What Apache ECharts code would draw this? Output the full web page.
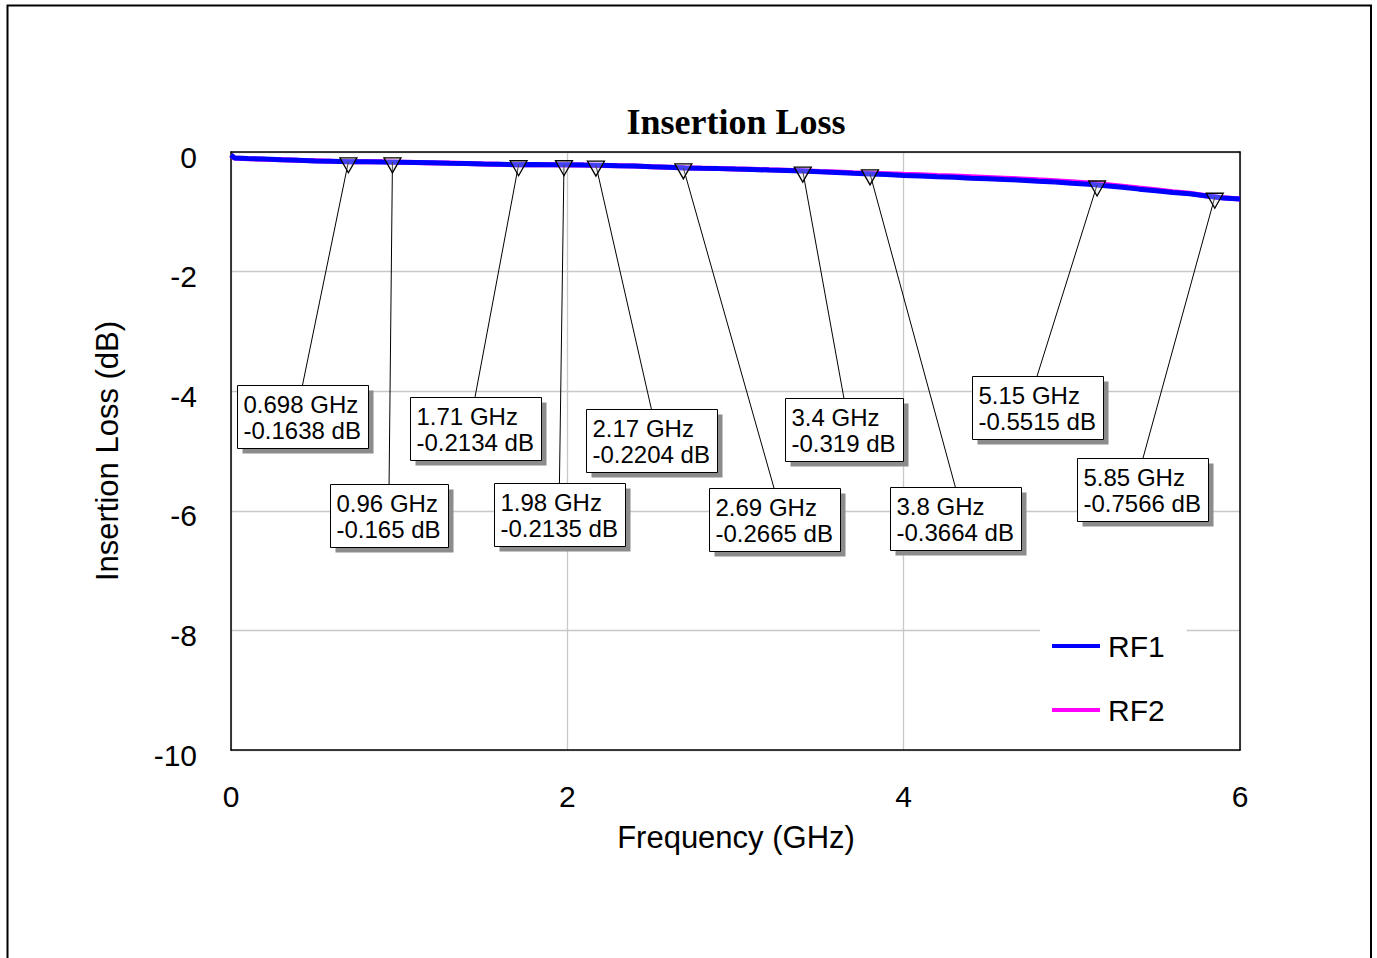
<!DOCTYPE html>
<html><head><meta charset="utf-8">
<script src="https://cdn.jsdelivr.net/npm/echarts@6/dist/echarts.min.js"></script>
<style>html,body{margin:0;padding:0;background:#fff}#c{width:1377px;height:958px}</style>
</head><body><div id="c"></div>
<script>
// ---- data ----
const freqGHz = [0, 0.02, 0.1, 0.2, 0.3, 0.4, 0.5, 0.6, 0.7, 0.8, 0.9, 1.0, 1.1, 1.2, 1.3, 1.4, 1.5, 1.6, 1.7, 1.8, 1.9, 2.0, 2.1, 2.2, 2.3, 2.4, 2.5, 2.6, 2.7, 2.8, 2.9, 3.0, 3.1, 3.2, 3.3, 3.4, 3.5, 3.6, 3.7, 3.8, 3.9, 4.0, 4.1, 4.2, 4.3, 4.4, 4.5, 4.6, 4.7, 4.8, 4.9, 5.0, 5.1, 5.2, 5.3, 5.4, 5.5, 5.6, 5.7, 5.8, 5.9, 6.0];
const rf1Db = [-0.05, -0.1, -0.11, -0.118, -0.131, -0.138, -0.149, -0.156, -0.163, -0.162, -0.167, -0.171, -0.176, -0.181, -0.189, -0.192, -0.201, -0.205, -0.213, -0.211, -0.215, -0.214, -0.219, -0.221, -0.229, -0.235, -0.248, -0.256, -0.266, -0.273, -0.278, -0.286, -0.292, -0.302, -0.309, -0.319, -0.331, -0.341, -0.355, -0.366, -0.377, -0.391, -0.401, -0.413, -0.422, -0.437, -0.448, -0.461, -0.471, -0.488, -0.502, -0.523, -0.541, -0.566, -0.591, -0.621, -0.647, -0.676, -0.699, -0.736, -0.769, -0.786];
const rf2Db = [-0.055, -0.1, -0.112, -0.121, -0.129, -0.14, -0.147, -0.155, -0.161, -0.164, -0.165, -0.17, -0.177, -0.183, -0.186, -0.194, -0.199, -0.206, -0.212, -0.213, -0.213, -0.216, -0.217, -0.224, -0.228, -0.236, -0.245, -0.254, -0.264, -0.27, -0.276, -0.283, -0.29, -0.298, -0.305, -0.315, -0.325, -0.334, -0.345, -0.354, -0.364, -0.374, -0.382, -0.393, -0.402, -0.414, -0.426, -0.438, -0.45, -0.466, -0.48, -0.499, -0.519, -0.545, -0.572, -0.603, -0.632, -0.664, -0.69, -0.731, -0.767, -0.786];
const seriesNames = ['RF1', 'RF2'];
const markerFreq = [0.698, 0.96, 1.71, 1.98, 2.17, 2.69, 3.4, 3.8, 5.15, 5.85];
const markerDb = [-0.1638, -0.165, -0.2134, -0.2135, -0.2204, -0.2665, -0.319, -0.3664, -0.5515, -0.7566];
// label box anchor (top-centre of each box) in data units
const labelFreq = [0.425, 0.94, 1.451, 1.953, 2.5, 3.229, 3.645, 4.308, 4.793, 5.423];
const labelDb = [-3.9, -5.556, -4.1, -5.54, -4.3, -5.62, -4.12, -5.61, -3.75, -5.12];
const xTicks = [0, 2, 4, 6];
const yTicks = [-10, -8, -6, -4, -2, 0];
const titleText = 'Insertion Loss';
const xTitle = 'Frequency (GHz)';
const yTitle = 'Insertion Loss (dB)';

// ---- chart ----
const FONT = '"Liberation Sans", Arial, sans-serif';
const mctx = document.createElement('canvas').getContext('2d');
function textW(s) { mctx.font = '24px ' + FONT; return mctx.measureText(s).width; }

const chart = echarts.init(document.getElementById('c'), null, { renderer: 'svg' });

const markerData = markerFreq.map((f, i) => [f, markerDb[i], labelFreq[i], labelDb[i]]);

const option = {
  animation: false,
  backgroundColor: '#fff',
  grid: { left: 231, right: 137, top: 152, bottom: 208, containLabel: false },
  xAxis: [{
    type: 'value', min: xTicks[0], max: xTicks[xTicks.length - 1], interval: 2,
    axisLine: { show: true, onZero: false, lineStyle: { color: '#000', width: 1.5 } },
    axisTick: { show: false },
    axisLabel: { fontSize: 30, fontFamily: FONT, color: '#000', margin: 31 },
    splitLine: { show: true, lineStyle: { color: '#c8c8c8', width: 1.3 } }
  }, {
    type: 'value', position: 'top', min: 0, max: 6, interval: 2,
    axisLine: { show: true, onZero: false, lineStyle: { color: '#000', width: 1.5 } },
    axisTick: { show: false }, axisLabel: { show: false }, splitLine: { show: false }
  }],
  yAxis: [{
    type: 'value', min: yTicks[0], max: yTicks[yTicks.length - 1], interval: 2,
    axisLine: { show: true, onZero: false, lineStyle: { color: '#000', width: 1.5 } },
    axisTick: { show: false },
    axisLabel: { fontSize: 30, fontFamily: FONT, color: '#000', margin: 34, verticalAlign: 'top', lineHeight: 10 },
    splitLine: { show: true, lineStyle: { color: '#c8c8c8', width: 1.3 } }
  }, {
    type: 'value', position: 'right', min: -10, max: 0, interval: 2,
    axisLine: { show: true, onZero: false, lineStyle: { color: '#000', width: 1.5 } },
    axisTick: { show: false }, axisLabel: { show: false }, splitLine: { show: false }
  }],
  legend: {
    data: seriesNames, orient: 'vertical', left: 1040, top: 621,
    backgroundColor: '#fff', padding: [10, 22, 10, 12],
    itemWidth: 48, itemHeight: 4, itemGap: 34, icon: 'rect',
    textStyle: { fontSize: 30, fontFamily: FONT, color: '#000', lineHeight: 30, padding: [0, 0, 0, 3] }
  },
  graphic: [
    { type: 'rect', z: 100, silent: true, shape: { x: 7.5, y: 5.5, width: 1363.5, height: 1000 },
      style: { fill: 'none', stroke: '#000', lineWidth: 2 } },
    { type: 'text', x: 736, y: 122, style: { text: titleText, font: 'bold 36px "Liberation Serif", "Times New Roman", serif', fill: '#000', align: 'center', verticalAlign: 'middle' } },
    { type: 'text', x: 736, y: 837, style: { text: xTitle, font: '31px ' + FONT, fill: '#000', align: 'center', verticalAlign: 'middle' } },
    { type: 'text', x: 107, y: 451, rotation: Math.PI / 2, style: { text: yTitle, font: '31px ' + FONT, fill: '#000', align: 'center', verticalAlign: 'middle' } }
  ],
  series: [
    { name: 'RF2', type: 'line', data: freqGHz.map((f, i) => [f, rf2Db[i]]), showSymbol: false, symbol: 'none',
      lineStyle: { color: '#ff00ff', width: 5 }, itemStyle: { color: '#ff00ff' }, z: 2 },
    { name: 'RF1', type: 'line', data: freqGHz.map((f, i) => [f, rf1Db[i]]), showSymbol: false, symbol: 'none',
      lineStyle: { color: '#0000ff', width: 5 }, itemStyle: { color: '#0000ff' }, z: 3 },
    { name: 'markers', type: 'custom', data: markerData, clip: false, z: 5,
      renderItem: function (params, api) {
        const i = params.dataIndex;
        const p = api.coord([api.value(0), api.value(1)]);
        const a = api.coord([api.value(2), api.value(3)]);
        const l1 = markerFreq[i] + ' GHz';
        const l2 = markerDb[i] + ' dB';
        const w = Math.ceil(Math.max(textW(l1), textW(l2))) + 13;
        const h = 63;
        const bx = Math.round(a[0] - w / 2) + 0.5, by = Math.round(a[1]) + 0.5;
        return { type: 'group', children: [
          { type: 'line', shape: { x1: a[0], y1: a[1], x2: p[0], y2: p[1] }, style: { stroke: '#000', lineWidth: 1 } },
          { type: 'polygon', shape: { points: [[p[0] - 8.5, p[1] - 4], [p[0] + 8.5, p[1] - 4], [p[0], p[1] + 11]] },
            style: { fill: 'rgba(220,220,220,0.3)', stroke: '#000', lineWidth: 1.3 } },
          { type: 'rect', shape: { x: bx + 5, y: by + 5, width: w, height: h }, style: { fill: '#8c8c8c' } },
          { type: 'rect', shape: { x: bx, y: by, width: w, height: h }, style: { fill: '#fff', stroke: '#000', lineWidth: 1 } },
          { type: 'text', x: bx + 6, y: by + 5.6, style: { text: l1 + '\n' + l2, font: '24px ' + FONT, fill: '#000', lineHeight: 26, align: 'left', verticalAlign: 'top' } }
        ] };
      }
    }
  ]
};
chart.setOption(option);
</script>
</body></html>
